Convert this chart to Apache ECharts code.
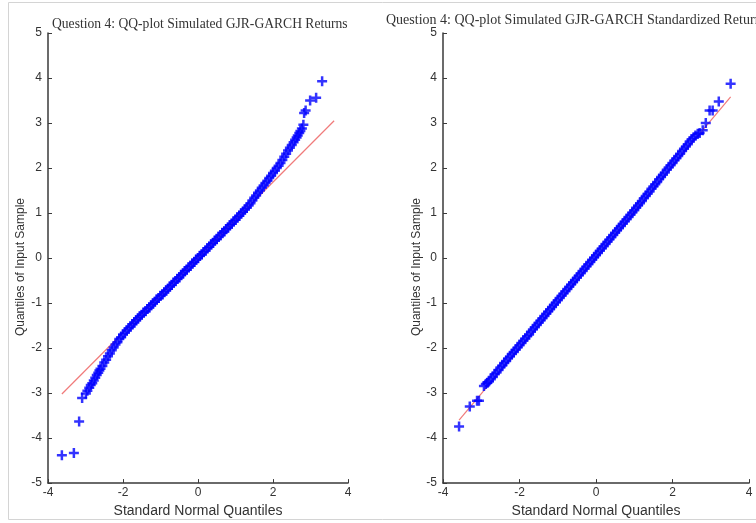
<!DOCTYPE html>
<html>
<head>
<meta charset="utf-8">
<script src="https://cdn.jsdelivr.net/npm/echarts@6/dist/echarts.min.js"></script>
<style>
  html, body { margin: 0; padding: 0; background: #fff; }
  #chart { width: 756px; height: 523px; }
</style>
</head>
<body>
<div id="chart"></div>
<script>
// Tick values shared by both panels
const xTicks = [-4, -2, 0, 2, 4];
const yTicks = [-5, -4, -3, -2, -1, 0, 1, 2, 3, 4, 5];

// Panel 1: simulated GJR-GARCH returns (theoretical vs sample quantiles)
const retTheo = [
  -3.63, -3.31, -3.17, -3.09, -2.99, -2.95, -2.90, -2.86, -2.82, -2.78, -2.74, -2.70, -2.66, -2.63,
  -2.60, -2.55, -2.50, -2.45, -2.40, -2.35, -2.30, -2.25, -2.20, -2.15, -2.10, -2.05, -2.00,
  -1.95, -1.90, -1.85, -1.80, -1.75, -1.70, -1.65, -1.60, -1.55, -1.50, -1.45, -1.40, -1.35,
  -1.30, -1.25, -1.20, -1.15, -1.10, -1.05, -1.00, -0.95, -0.90, -0.85, -0.80, -0.75, -0.70,
  -0.65, -0.60, -0.55, -0.50, -0.45, -0.40, -0.35, -0.30, -0.25, -0.20, -0.15, -0.10, -0.05,
  0.00, 0.05, 0.10, 0.15, 0.20, 0.25, 0.30, 0.35, 0.40, 0.45, 0.50, 0.55, 0.60, 0.65, 0.70,
  0.75, 0.80, 0.85, 0.90, 0.95, 1.00, 1.05, 1.10, 1.15, 1.20, 1.25, 1.30, 1.35, 1.40, 1.45,
  1.50, 1.55, 1.60, 1.65, 1.70, 1.75, 1.80, 1.85, 1.90, 1.95, 2.00, 2.05, 2.10, 2.15, 2.20,
  2.25, 2.30, 2.35, 2.40, 2.45, 2.50, 2.55,
  2.59, 2.63, 2.66, 2.70, 2.73, 2.77, 2.81, 2.83, 2.87, 2.99, 3.15, 3.31
];
const retSample = [
  -4.38, -4.33, -3.63, -3.11, -3.01, -2.95, -2.88, -2.82, -2.78, -2.72, -2.66, -2.60, -2.55, -2.50,
  -2.46, -2.40, -2.32, -2.26, -2.18, -2.12, -2.05, -1.99, -1.92, -1.87, -1.80, -1.76, -1.70,
  -1.66, -1.61, -1.56, -1.52, -1.47, -1.43, -1.38, -1.34, -1.30, -1.26, -1.21, -1.18, -1.13,
  -1.10, -1.05, -1.01, -0.97, -0.92, -0.89, -0.84, -0.81, -0.76, -0.72, -0.68, -0.63, -0.60,
  -0.55, -0.51, -0.46, -0.43, -0.38, -0.34, -0.29, -0.26, -0.21, -0.17, -0.12, -0.09, -0.04,
  0.00, 0.05, 0.08, 0.13, 0.17, 0.22, 0.25, 0.30, 0.34, 0.39, 0.42, 0.47, 0.51, 0.56, 0.59,
  0.64, 0.68, 0.73, 0.76, 0.81, 0.85, 0.90, 0.94, 0.99, 1.03, 1.08, 1.12, 1.17, 1.22, 1.28,
  1.34, 1.39, 1.45, 1.50, 1.56, 1.61, 1.67, 1.72, 1.78, 1.83, 1.89, 1.94, 2.00, 2.05, 2.11,
  2.18, 2.25, 2.32, 2.39, 2.45, 2.51, 2.57,
  2.63, 2.68, 2.72, 2.78, 2.82, 2.88, 2.96, 3.22, 3.28, 3.50, 3.56, 3.93
];
// Reference line through the quartiles, spanning the data range
const retLineX = [-3.63, 3.63];
const retLineY = [-3.02, 3.05];

// Panel 2: standardized GJR-GARCH returns
const stdTheo = [
  -3.58, -3.30, -3.11, -3.06, -2.93, -2.88, -2.84, -2.80,
  -2.75, -2.70, -2.65, -2.60, -2.55, -2.50, -2.45, -2.40, -2.35, -2.30, -2.25, -2.20, -2.15,
  -2.10, -2.05, -2.00, -1.95, -1.90, -1.85, -1.80, -1.75, -1.70, -1.65, -1.60, -1.55, -1.50,
  -1.45, -1.40, -1.35, -1.30, -1.25, -1.20, -1.15, -1.10, -1.05, -1.00, -0.95, -0.90, -0.85,
  -0.80, -0.75, -0.70, -0.65, -0.60, -0.55, -0.50, -0.45, -0.40, -0.35, -0.30, -0.25, -0.20,
  -0.15, -0.10, -0.05, 0.00, 0.05, 0.10, 0.15, 0.20, 0.25, 0.30, 0.35, 0.40, 0.45, 0.50, 0.55,
  0.60, 0.65, 0.70, 0.75, 0.80, 0.85, 0.90, 0.95, 1.00, 1.05, 1.10, 1.15, 1.20, 1.25, 1.30,
  1.35, 1.40, 1.45, 1.50, 1.55, 1.60, 1.65, 1.70, 1.75, 1.80, 1.85, 1.90, 1.95, 2.00, 2.05,
  2.10, 2.15, 2.20, 2.25, 2.30, 2.35, 2.40, 2.45, 2.50,
  2.55, 2.60, 2.66, 2.71, 2.79, 2.87, 2.97, 3.05, 3.21, 3.52
];
const stdSample = [
  -3.74, -3.30, -3.17, -3.17, -2.84, -2.80, -2.77, -2.74,
  -2.69, -2.64, -2.58, -2.54, -2.49, -2.43, -2.39, -2.33, -2.29, -2.23, -2.19, -2.13, -2.09,
  -2.04, -1.99, -1.94, -1.89, -1.84, -1.79, -1.74, -1.70, -1.64, -1.59, -1.54, -1.49, -1.44,
  -1.39, -1.34, -1.29, -1.24, -1.19, -1.14, -1.09, -1.04, -0.99, -0.94, -0.89, -0.84, -0.79,
  -0.74, -0.69, -0.64, -0.59, -0.54, -0.49, -0.44, -0.39, -0.34, -0.29, -0.24, -0.19, -0.14,
  -0.09, -0.04, 0.01, 0.06, 0.11, 0.16, 0.21, 0.26, 0.31, 0.36, 0.41, 0.46, 0.51, 0.56, 0.61,
  0.66, 0.71, 0.76, 0.81, 0.86, 0.91, 0.96, 1.01, 1.06, 1.12, 1.17, 1.22, 1.27, 1.33, 1.38,
  1.43, 1.48, 1.54, 1.59, 1.64, 1.69, 1.75, 1.80, 1.85, 1.90, 1.96, 2.01, 2.06, 2.11, 2.17,
  2.22, 2.27, 2.32, 2.38, 2.43, 2.48, 2.53, 2.59, 2.64,
  2.68, 2.72, 2.76, 2.78, 2.84, 3.00, 3.28, 3.28, 3.48, 3.87
];
const stdLineX = [-3.58, 3.52];
const stdLineY = [-3.60, 3.58];

const titles = [
  'Question 4: QQ-plot Simulated GJR-GARCH Returns',
  'Question 4: QQ-plot Simulated GJR-GARCH Standardized Returns'
];
const xName = 'Standard Normal Quantiles';
const yName = 'Quantiles of Input Sample';

const pairs = (xs, ys) => xs.map((x, i) => [x, ys[i]]);

const plusSymbol = 'path://M0,5L10,5M5,0L5,10';
const axisColor = '#3a3a3a';
const sans = 'Liberation Sans, Arial, sans-serif';
const labelFont = { fontFamily: sans, fontSize: 12, color: '#333' };

function xAxisFor(gridIndex) {
  return {
    type: 'value', gridIndex, min: xTicks[0], max: xTicks[xTicks.length - 1], interval: 2,
    name: xName, nameLocation: 'middle', nameGap: 20,
    nameTextStyle: { fontFamily: sans, fontSize: 14, color: '#333' },
    axisLine: { show: true, onZero: false, lineStyle: { color: axisColor, width: 1.5 } },
    axisTick: { show: true, inside: true, length: 4, lineStyle: { color: axisColor, width: 1 } },
    axisLabel: Object.assign({ margin: 4 }, labelFont),
    splitLine: { show: false }
  };
}
function yAxisFor(gridIndex, gap) {
  return {
    type: 'value', gridIndex, min: yTicks[0], max: yTicks[yTicks.length - 1], interval: 1,
    name: yName, nameLocation: 'middle', nameGap: gap, nameRotate: 90,
    nameTextStyle: { fontFamily: sans, fontSize: 12, color: '#333', padding: [0, 18, 0, 0] },
    axisLine: { show: true, onZero: false, lineStyle: { color: axisColor, width: 1.5 } },
    axisTick: { show: true, inside: true, length: 4, lineStyle: { color: axisColor, width: 1 } },
    axisLabel: Object.assign({ margin: 6 }, labelFont),
    splitLine: { show: false }
  };
}
function pointSeries(idx, xs, ys) {
  return {
    type: 'scatter', xAxisIndex: idx, yAxisIndex: idx, data: pairs(xs, ys),
    symbol: plusSymbol, symbolSize: 10, z: 3, silent: true,
    itemStyle: { color: 'rgba(0,0,0,0)', borderColor: '#0000ff', borderWidth: 2.5 }
  };
}
function lineSeries(idx, xs, ys) {
  return {
    type: 'line', xAxisIndex: idx, yAxisIndex: idx, data: pairs(xs, ys),
    showSymbol: false, z: 2, silent: true,
    lineStyle: { color: '#f07a7a', width: 1.2 }
  };
}

const chart = echarts.init(document.getElementById('chart'), null, { renderer: 'canvas' });
chart.setOption({
  animation: false,
  backgroundColor: '#fff',
  title: [
    { text: titles[0], left: 47, top: 12,
      textStyle: { fontFamily: 'Liberation Serif, serif', fontSize: 13.6, fontWeight: 'normal', color: '#333' } },
    { text: titles[1], left: 381, top: 8,
      textStyle: { fontFamily: 'Liberation Serif, serif', fontSize: 14, fontWeight: 'normal', color: '#333' } }
  ],
  grid: [
    { left: 48, top: 33, width: 300, height: 456 },
    { left: 443, top: 33, width: 306, height: 456 }
  ],
  xAxis: [xAxisFor(0), xAxisFor(1)],
  yAxis: [yAxisFor(0, 21), yAxisFor(1, 19)],
  series: [
    lineSeries(0, retLineX, retLineY),
    pointSeries(0, retTheo, retSample),
    lineSeries(1, stdLineX, stdLineY),
    pointSeries(1, stdTheo, stdSample)
  ],
  graphic: [
    { type: 'rect', silent: true, z: 0,
      shape: { x: 8.5, y: 2.5, width: 760, height: 517 },
      style: { fill: 'none', stroke: '#d4d4d4', lineWidth: 1 } }
  ]
});
</script>
</body>
</html>
